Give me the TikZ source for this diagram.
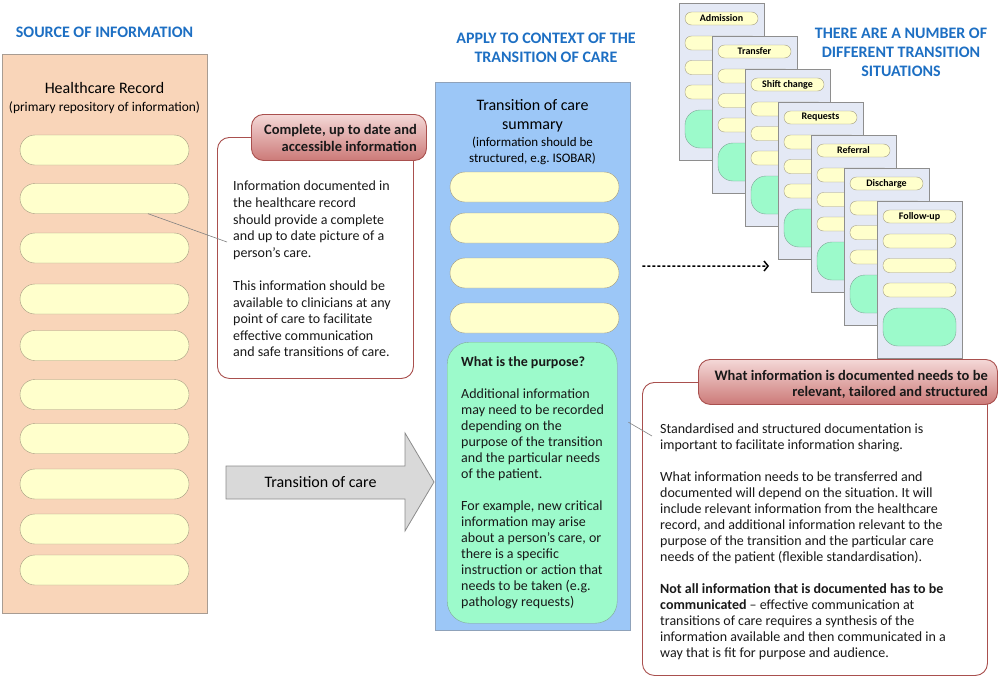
\documentclass[tikz,border=0pt]{standalone}
\usepackage{fontspec}
\setmainfont{Carlito}
\usetikzlibrary{arrows.meta}
\frenchspacing
\definecolor{hblue}{HTML}{1D6FC3}
\definecolor{peach}{HTML}{F9D5B9}
\definecolor{recB}{HTML}{A89C92}
\definecolor{pillY}{HTML}{FFFFCC}
\definecolor{pillB}{HTML}{A39C80}
\definecolor{blueF}{HTML}{9CC7F7}
\definecolor{blueB}{HTML}{8FA2BA}
\definecolor{greenF}{HTML}{9CFACB}
\definecolor{greenB}{HTML}{80A898}
\definecolor{redB}{HTML}{A9504E}
\definecolor{redT}{HTML}{F4D8D7}
\definecolor{redD}{HTML}{CC7A78}
\definecolor{cardF}{HTML}{E4E9F5}
\definecolor{cardB}{HTML}{8E8E8E}
\definecolor{arrowF}{HTML}{D9D9D9}
\definecolor{arrowB}{HTML}{8C8C8C}
\definecolor{connC}{HTML}{808080}
\begin{document}
\begin{tikzpicture}[x=1pt,y=-1pt,
  hdr/.style={text=hblue, font=\bfseries\fontsize{16}{19}\selectfont, align=center, inner sep=0},
  body/.style={font=\fontsize{14}{16.6}\selectfont, align=left, inner sep=0, anchor=north west, text=black!90},
  pill/.style={draw=pillB, fill=pillY, rounded corners=15, minimum width=169, minimum height=30, inner sep=0},
  callbox/.style={draw=redB, line width=0.9pt, fill=white, rounded corners=12, anchor=north west, inner sep=0},
  callhdr/.style={draw=redB, line width=0.9pt, top color=redT, bottom color=redD, rounded corners=12, anchor=north west, inner sep=0},
  callhtext/.style={font=\bfseries\fontsize{14.5}{17}\selectfont, align=right, inner sep=0, anchor=north east, text=black!90},
  conn/.style={draw=connC, line width=0.6pt},
  card/.style={draw=cardB, fill=cardF, minimum width=85, minimum height=157, inner sep=0, line width=0.8pt},
  cpill/.style={draw=pillB, fill=pillY, minimum width=73, inner sep=0, rounded corners=6.5},
  cgreen/.style={draw=greenB, fill=greenF, minimum width=73, minimum height=38, inner sep=0, rounded corners=15}
]
\useasboundingbox (0,0) rectangle (1000,680);

% ---------- Left column ----------
\node[hdr] (h1) at (104.5,32.5) {SOURCE OF INFORMATION};
\node[draw=recB, fill=peach, minimum width=205, minimum height=559, anchor=north west, inner sep=0] (rec) at (2,54) {};
\node[font=\fontsize{16}{19}\selectfont, inner sep=0] (rect) at (104.5,88.5) {Healthcare Record};
\node[font=\fontsize{13.4}{16}\selectfont, inner sep=0] (recs) at (104.5,108) {(primary repository of information)};
\foreach \y [count=\k] in {150,198.5,248,299,345.5,394.5,438.5,484,529,570}
  \node[pill] (lp\k) at (104.5,\y) {};

% ---------- Callout 1 ----------
\node[callbox, minimum width=196, minimum height=241] (c1box) at (217,137) {};
\node[callhdr, minimum width=175, minimum height=46] (c1hdr) at (251,114) {};
\node[callhtext] (c1ht) at (417,124) {Complete, up to date and\\accessible information};
\node[body] (c1t) at (233,181) {Information documented in\\the healthcare record\\should provide a complete\\and up to date picture of a\\person’s care.\\[16.6pt]This information should be\\available to clinicians at any\\point of care to facilitate\\effective communication\\and safe transitions of care.};
\coordinate (c1in) at (227,242);
\draw[conn] ([xshift=43.5pt]lp2.south) -- (c1in);

% ---------- Middle column ----------
\node[hdr] (h2) at (546,47.5) {APPLY TO CONTEXT OF THE\\TRANSITION OF CARE};
\node[draw=blueB, fill=blueF, minimum width=195, minimum height=548, anchor=north west, inner sep=0] (sum) at (435,82) {};
\node[font=\fontsize{16}{19}\selectfont, align=center, inner sep=0] (sumt) at (532.5,116) {Transition of care\\summary};
\node[font=\fontsize{13}{16}\selectfont, align=center, inner sep=0] (sums) at (532.5,150.5) {(information should be\\structured, e.g. ISOBAR)};
\foreach \y [count=\k] in {187,228,273,318}
  \node[pill] (mp\k) at (534.5,\y) {};
\node[draw=greenB, fill=greenF, rounded corners=22, minimum width=170, minimum height=281, anchor=north west, inner sep=0] (purp) at (447,342) {};
\node[body, font=\fontsize{14}{16}\selectfont] (purpt) at (461,356) {\textbf{What is the purpose?}\\[16pt]Additional information\\may need to be recorded\\depending on the\\purpose of the transition\\and the particular needs\\of the patient.\\[16pt]For example, new critical\\information may arise\\about a person’s care, or\\there is a specific\\instruction or action that\\needs to be taken (e.g.\\pathology requests)};

% ---------- Big arrow ----------
\path[draw=arrowB, fill=arrowF, line width=0.8pt] (226,466) -- (405,466) -- (405,433) -- (434,482) -- (405,531) -- (405,499) -- (226,499) -- cycle;
\node[font=\fontsize{16}{19}\selectfont, inner sep=0] (toc) at (320.5,482.5) {Transition of care};

% ---------- Right: header ----------
\node[hdr] (h3) at (901,52.5) {THERE ARE A NUMBER OF\\DIFFERENT TRANSITION\\SITUATIONS};

% ---------- Cards ----------
\foreach \t [count=\i from 0] in {Admission,Transfer,Shift change,Requests,Referral,Discharge,Follow-up} {
  \pgfmathsetmacro\cx{679+33*\i}
  \pgfmathsetmacro\cy{3+33*\i}
  \node[card, anchor=north west] (card\i) at (\cx,\cy) {};
  \node[cpill, minimum height=13, font=\bfseries\fontsize{10}{12}\selectfont] (ct\i) at ([xshift=42.5pt,yshift=-15.5pt]card\i.north west) {\t};
  \node[cpill, minimum height=14] (cpa\i) at ([xshift=42.5pt,yshift=-40pt]card\i.north west) {};
  \node[cpill, minimum height=14] (cpb\i) at ([xshift=42.5pt,yshift=-64.5pt]card\i.north west) {};
  \node[cpill, minimum height=14] (cpc\i) at ([xshift=42.5pt,yshift=-89pt]card\i.north west) {};
  \node[cgreen] (cg\i) at ([xshift=42.5pt,yshift=-126pt]card\i.north west) {};
}

% ---------- Dashed arrow ----------
\coordinate (dstart) at ([xshift=12pt,yshift=90pt]sum.east);
\coordinate (dend) at (769,266);
\draw[line width=1.5pt, dash pattern=on 3pt off 2pt, -{Straight Barb[length=4pt,width=10pt,line width=1.5pt]}] (dstart) -- (dend);

% ---------- Callout 2 ----------
\node[callbox, minimum width=345, minimum height=293] (c2box) at (642,382) {};
\node[callhdr, minimum width=299, minimum height=45] (c2hdr) at (698,359) {};
\node[callhtext, font=\bfseries\fontsize{14.5}{16}\selectfont] (c2ht) at (988,370) {What information is documented needs to be\\relevant, tailored and structured};
\node[body, font=\fontsize{14}{16}\selectfont] (c2t) at (660,424) {Standardised and structured documentation is\\important to facilitate information sharing.\\[16pt]What information needs to be transferred and\\documented will depend on the situation. It will\\include relevant information from the healthcare\\record, and additional information relevant to the\\purpose of the transition and the particular care\\needs of the patient (flexible standardisation).\\[16pt]\textbf{Not all information that is documented has to be}\\\textbf{communicated} – effective communication at\\transitions of care requires a synthesis of the\\information available and then communicated in a\\way that is fit for purpose and audience.};
\coordinate (c2in) at (652,436);
\draw[conn] ([xshift=-2pt,yshift=-66pt]sum.east) -- (c2in);

\end{tikzpicture}
\end{document}
